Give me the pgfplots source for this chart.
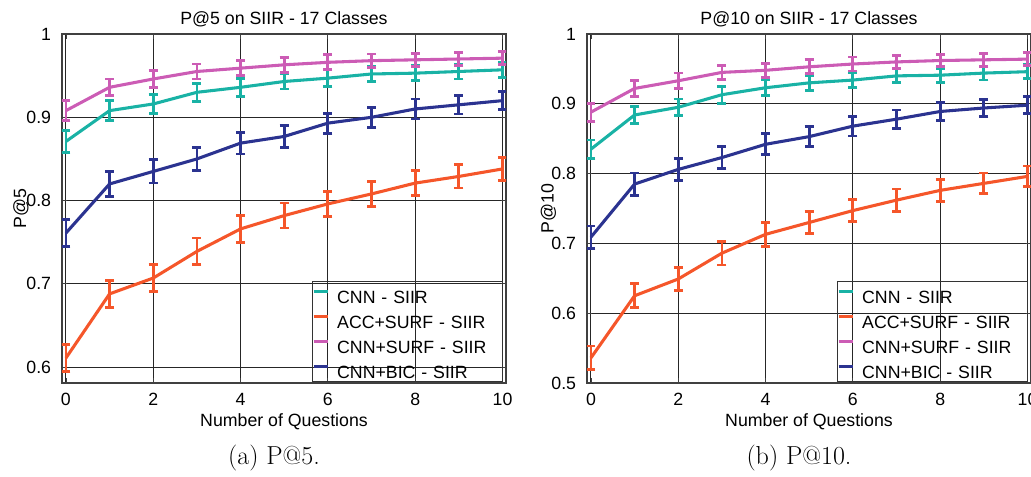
\documentclass[border=0pt]{standalone}
\usepackage{fontspec}
\usepackage{pgfplots}
\usepackage{pgfplotstable}
\pgfplotsset{compat=1.18}
\newfontfamily\helv{Liberation Sans}
\definecolor{cteal}{RGB}{25,178,165}
\definecolor{corange}{RGB}{245,86,42}
\definecolor{cmag}{RGB}{204,92,181}
\definecolor{cnavy}{RGB}{43,51,144}

\pgfplotstableread{
x a ea b eb c ec d ed
0 0.871 0.013 0.611 0.016 0.908 0.012 0.761 0.016
1 0.908 0.012 0.688 0.016 0.936 0.010 0.820 0.015
2 0.916 0.011 0.707 0.016 0.946 0.010 0.835 0.014
3 0.930 0.011 0.739 0.016 0.955 0.009 0.850 0.014
4 0.936 0.011 0.766 0.016 0.959 0.009 0.869 0.013
5 0.943 0.009 0.782 0.015 0.963 0.009 0.877 0.013
6 0.947 0.010 0.796 0.015 0.966 0.009 0.893 0.012
7 0.952 0.009 0.808 0.015 0.968 0.008 0.900 0.012
8 0.953 0.009 0.821 0.015 0.969 0.008 0.910 0.012
9 0.955 0.009 0.829 0.014 0.970 0.008 0.915 0.011
10 0.957 0.009 0.838 0.014 0.971 0.008 0.920 0.011
}\pfive
\pgfplotstableread{
x a ea b eb c ec d ed
0 0.835 0.013 0.536 0.017 0.888 0.013 0.709 0.016
1 0.884 0.012 0.625 0.017 0.922 0.011 0.785 0.016
2 0.895 0.012 0.649 0.017 0.933 0.011 0.806 0.016
3 0.913 0.012 0.686 0.017 0.945 0.010 0.823 0.016
4 0.923 0.011 0.713 0.017 0.948 0.010 0.842 0.015
5 0.930 0.011 0.730 0.016 0.953 0.010 0.853 0.014
6 0.934 0.011 0.747 0.016 0.957 0.010 0.868 0.014
7 0.940 0.010 0.762 0.016 0.960 0.009 0.878 0.013
8 0.941 0.010 0.776 0.016 0.962 0.009 0.889 0.013
9 0.944 0.010 0.786 0.015 0.963 0.009 0.894 0.012
10 0.946 0.010 0.796 0.015 0.964 0.009 0.898 0.012
}\pten

\pgfplotsset{
  ebar/.style={line width=2.3pt, mark=none, line join=round,
    error bars/.cd, y dir=both, y explicit,
    error bar style={line width=2.1pt, solid},
    error mark options={rotate=90, mark size=3.4pt, line width=2.1pt}},
  myaxis/.style={
    scale only axis, width=333pt, height=261.75pt,
    anchor=south west,
    xmin=-0.09, xmax=10.08, ymax=1,
    xtick={0,2,4,6,8,10},
    grid=major,
    major grid style={line width=0.75pt, black!85},
    axis line style={line width=0.8pt, black!75},
    tick align=inside, major tick length=4pt,
    tick style={black!75, line width=0.6pt},
    font=\helv\fontsize{13.3}{16}\selectfont,
    /pgf/number format/assume math mode=true,
    xticklabel style={anchor=base, yshift=-17pt, inner sep=0pt},
    yticklabel style={anchor=east, xshift=-8pt, inner sep=0pt},
    title style={at={(0.5,1)}, anchor=base, yshift=1.5pt, inner sep=0pt},
    xlabel style={at={(axis description cs:0.5,0)}, anchor=base, yshift=-32.8pt, inner sep=0pt},
    xlabel={Number of Questions},
    legend style={at={(0.5624,0.2931)}, anchor=north west, draw=black!80, line width=0.8pt,
      fill=none, inner sep=0pt, row sep=0pt,
      font=\helv\fontsize{13.3}{16}\selectfont,
      nodes={inner ysep=2pt, inner xsep=1pt, text height=14.75pt, text depth=0pt},
      /tikz/every odd column/.append style={column sep=5pt},
      /tikz/every even column/.append style={text width=123pt}},
    legend cell align=left,
    legend image code/.code={\draw[#1, mark=none, line width=2.2pt] (0pt,1.8pt)--(10.5pt,1.8pt);},
  }
}

\begin{document}
\begin{tikzpicture}
\useasboundingbox (0,0) rectangle (773.25pt,357pt);

\begin{axis}[myaxis, at={(46.5pt,69.75pt)},
  ymin=0.581,
  ytick={0.6,0.7,0.8,0.9,1}, yticklabels={0.6,0.7,0.8,0.9,1},
  title={P@5 on SIIR - 17 Classes},
  ylabel={P@5},
  ylabel style={at={(axis description cs:-0.081,0.5)}, anchor=base, inner sep=0pt},
]
\addplot[cteal, ebar] table[x=x, y=a, y error=ea] {\pfive};
\addlegendentry{CNN - SIIR}
\addplot[corange, ebar] table[x=x, y=b, y error=eb] {\pfive};
\addlegendentry{ACC+SURF - SIIR}
\addplot[cmag, ebar] table[x=x, y=c, y error=ec] {\pfive};
\addlegendentry{CNN+SURF - SIIR}
\addplot[cnavy, ebar] table[x=x, y=d, y error=ed] {\pfive};
\addlegendentry{CNN+BIC - SIIR}
\end{axis}

\begin{axis}[myaxis, at={(440.25pt,69.75pt)},
  ymin=0.5,
  ytick={0.5,0.6,0.7,0.8,0.9,1}, yticklabels={0.5,0.6,0.7,0.8,0.9,1},
  title={P@10 on SIIR - 17 Classes},
  ylabel={P@10},
  ylabel style={at={(axis description cs:-0.075,0.5)}, anchor=base, inner sep=0pt},
]
\addplot[cteal, ebar] table[x=x, y=a, y error=ea] {\pten};
\addlegendentry{CNN - SIIR}
\addplot[corange, ebar] table[x=x, y=b, y error=eb] {\pten};
\addlegendentry{ACC+SURF - SIIR}
\addplot[cmag, ebar] table[x=x, y=c, y error=ec] {\pten};
\addlegendentry{CNN+SURF - SIIR}
\addplot[cnavy, ebar] table[x=x, y=d, y error=ed] {\pten};
\addlegendentry{CNN+BIC - SIIR}
\end{axis}

\node[anchor=base, inner sep=0pt, font=\fontsize{19.5}{23}\selectfont] at (205.5pt,8.5pt) {(a) P@5.};
\node[anchor=base, inner sep=0pt, font=\fontsize{19.5}{23}\selectfont] at (599.25pt,8.5pt) {(b) P@10.};
\end{tikzpicture}
\end{document}
